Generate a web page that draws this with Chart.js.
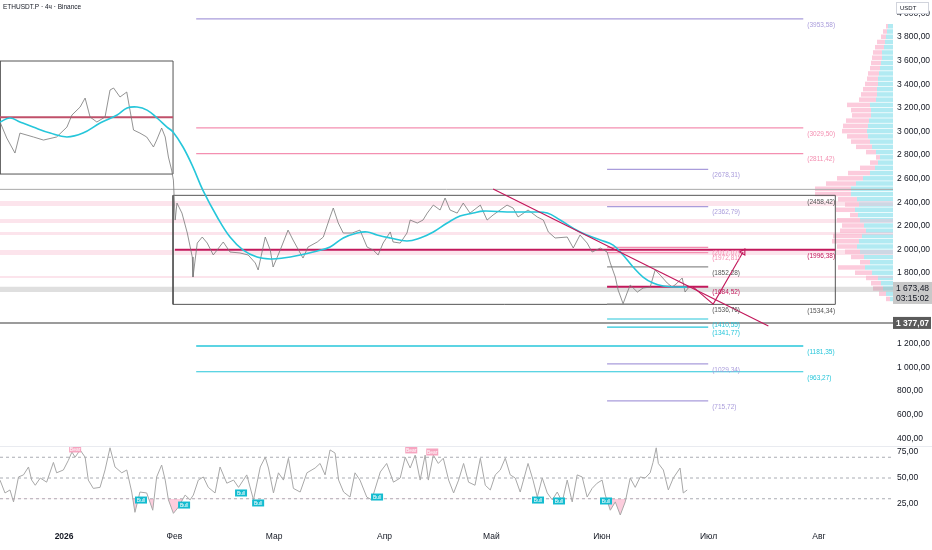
<!DOCTYPE html>
<html>
<head>
<meta charset="utf-8">
<script src="https://cdn.jsdelivr.net/npm/chart.js@4.4.1/dist/chart.umd.min.js"></script>
<style>
  html, body { margin: 0; padding: 0; background: #fff; }
  #wrap { position: relative; width: 932px; height: 550px; overflow: hidden; }
  canvas { position: absolute; }
  #profile { left: 780px; top: 0; z-index: 0; }
  #price { left: 0; top: 0; z-index: 1; }
  #rsi { left: 0; top: 446px; z-index: 1; }
  #sep { position: absolute; left: 0; top: 446px; width: 932px; height: 1px; background: #e9ebf0; z-index: 2; }
</style>
</head>
<body>
<div id="wrap">
  <canvas id="profile" width="113" height="446"></canvas>
  <canvas id="price" width="932" height="446"></canvas>
  <canvas id="rsi" width="932" height="104"></canvas>
  <div id="sep"></div>
</div>
<script>
const FONT = '"Liberation Sans", Arial, sans-serif';
Chart.defaults.font.family = FONT;
Chart.defaults.layout.autoPadding = false;

// time axis, in days from 1 Jan 2026
const xMin = -18, xMax = 232.8;
const monthDays = [0, 31, 59, 90, 120, 151, 181, 212];
const monthLabels = ['2026', 'Фев', 'Мар', 'Апр', 'Май', 'Июн', 'Июл', 'Авг'];

const priceMin = 334, priceMax = 4114;
const priceTicks = [400, 600, 800, 1000, 1200, 1400, 1600, 1800, 2000, 2200, 2400, 2600, 2800, 3000, 3200, 3400, 3600, 3800, 4000];
const rsiTicks = [25, 50, 75];
const rsiLevels = [30, 50, 70];

// ETHUSDT.P 4h
const priceDays = [-18.0,-16.1,-13.8,-12.4,-8.6,-5.8,-2.1,0.8,2.2,4.5,5.9,7.3,9.2,11.5,12.9,13.9,15.7,17.6,19.5,21.3,
  23.2,25.1,26.0,27.4,28.4,29.3,30.2,30.7,31.2,31.7,33.1,34.6,36.0,36.2,37.4,38.8,40.2,41.9,44.7,46.6,
  49.4,51.7,53.7,54.5,56.5,57.9,58.7,60.7,62.9,64.3,66.3,67.1,68.5,71.1,72.8,74.7,75.6,77.0,78.4,80.9,
  83.1,85.1,86.8,88.2,89.6,91.6,92.4,94.4,96.3,97.2,99.2,100.8,102.0,103.7,105.6,107.0,108.4,110.4,112.1,114.0,
  116.9,118.8,120.5,124.4,126.1,127.5,130.3,132.9,134.6,136.0,137.9,141.3,143.0,144.9,146.9,148.3,150.6,152.5,153.4,154.8,
  155.6,157.0,158.1,159.0,161.0,162.6,164.6,166.0,167.4,169.4,170.8,172.2,173.6,174.4,175.3];
const priceVals = [3080,2944,2817,2986,2953,2927,2953,3037,3139,3207,3283,3122,3080,3122,3351,3368,3292,3334,3012,2986,
  2953,2868,2927,3029,2953,2783,2673,2588,2249,2393,2308,2139,1936,1766,2054,2105,2054,1953,2063,1978,
  1970,1953,1885,1826,2105,1995,1851,1995,2164,2080,1970,1927,2020,2063,2105,2275,2351,2224,2139,2139,
  2164,2020,1995,1953,2054,2148,2063,2054,2139,2249,2224,2249,2308,2376,2334,2436,2334,2308,2393,2308,
  2376,2249,2292,2376,2351,2275,2334,2275,2249,2148,2097,2105,2012,2122,2054,1978,2012,1978,1885,1766,
  1656,1540,1630,1698,1639,1673,1681,1826,1783,1715,1681,1715,1758,1639,1673];

// smooth moving average (cyan)
const maDays = [-18,-15.2,-12.4,-8.7,-3.9,0.8,5.3,10.1,14.9,17.7,20.5,23.3,26.1,28.9,30.6,33.4,36.2,39.0,43.0,46.6,
  50.3,54.2,57.9,61.5,66.3,71.1,74.7,78.4,82.3,85.1,87.9,91.6,96.3,100,103.7,107.6,111.2,114.9,117.7,124.4,
  131.7,135.7,139.3,144.9,150.6,154.2,157,159.8,162.6,165.4,168.3,172.2,175];
const maVals = [3080,3114,3080,3037,2986,2953,2986,3071,3139,3198,3207,3181,3114,3037,2995,2868,2698,2500,2275,2105,
  1995,1936,1919,1927,1953,1987,2020,2097,2139,2148,2122,2097,2071,2097,2148,2224,2283,2308,2325,2317,
  2317,2308,2249,2148,2080,2037,1953,1851,1766,1715,1690,1681,1681];

// RSI
const rsiDays = [-18.0,-16.6,-15.2,-14.2,-12.8,-11.4,-10.0,-9.1,-8.1,-6.7,-4.9,-3.0,-2.1,-0.2,1.2,2.2,3.1,4.5,5.9,6.8,
  8.2,10.1,11.5,12.9,14.3,16.2,17.6,19.0,19.9,21.3,23.2,24.9,26.0,27.4,28.4,29.3,30.7,32.1,34.0,35.4,
  36.3,37.7,39.1,40.5,42.4,43.8,45.7,47.6,49.0,51.3,53.2,55.1,56.5,57.4,58.8,60.2,61.6,63.0,64.4,66.3,
  68.2,70.5,71.9,73.3,74.7,76.1,77.1,78.5,80.3,81.7,83.1,85.0,86.4,88.8,90.6,92.5,94.4,95.8,97.2,98.6,
  100.0,101.4,102.3,103.7,105.1,106.5,108.0,109.4,110.8,112.2,113.6,115.4,116.9,118.3,119.7,121.1,122.5,123.9,125.3,126.7,
  128.1,130.3,131.7,132.9,134.3,135.7,137.1,138.5,139.9,141.3,142.7,144.1,145.5,146.9,148.3,149.7,151.1,152.0,153.4,154.8,
  156.2,157.6,159.0,160.4,161.8,163.2,164.6,165.4,166.3,166.9,168.3,169.7,171.1,173.0,173.9,175.0];
const rsiVals = [48,35.6,38.5,27,51,53,60.6,48,43,50,46,65,55,57.7,67,75,70,77,70,48,
  40,41,57.7,79,60.6,55,57.7,36.5,17,36.5,35.6,19,51,62.5,48,29,16,22,33.6,29,
  33.6,48,51,41,35.6,60.6,45,48,41,53,29,60.6,70,59.6,35.6,55,48,69,40,36.5,
  55,59.6,64,53,77,74,48,36.5,31.7,55,48,31.7,29,55.8,64,46,50,70,59.6,72,
  48,72,48,72,64,69,48,35.6,48,64,46,43,69,43,38.5,53,57.7,69,53,50,
  36.5,64,48,31.7,50,35.6,29,36.5,27,48,27,53,51,31.7,40,45,48,33.6,19,27,
  14.4,27,50,41,51,50,55,65,79,64,57.7,38.5,50,59.6,35.6,38.5];
const bullDays = [21.6, 33.7, 49.7, 54.5, 87.9, 133.1, 139.0, 152.2];
const bullVals = [28.8, 24, 35.6, 26, 31.7, 28.8, 27.9, 27.9];
const bearDays = [3.1, 97.5, 103.4];
const bearVals = [77.9, 77, 75];

const lastPrice = 1673.48;
const countdown = '03:15:02';
const markPrice = 1377.07;

// drawings
const fullSpan = [xMin, xMax];
const wideLevels = [2509, 1377.07];
const boxADays = [-18, 30.6], boxAPrices = [2639, 3597], boxAMid = 3120;
const boxBDays = [30.6, 216.6], boxBPrices = [1534.34, 2458.42], boxBMid = 1996.38;
const boxNotes = [2458.42, 1996.38, 1534.34];
const longDays = [37.1, 207.6];
const longLevels = [3953.58, 3029.50, 2811.42, 1181.35, 963.27];
const shortDays = [152.5, 180.9];
const shortLevels = [2678.31, 2362.79, 2017.07, 1972.81, 1852.28, 1684.52, 1536.76, 1410.55, 1341.77, 1029.34, 715.72];
const bandLo = [2368, 2224, 2122, 1953, 1758];
const bandHi = [2410, 2258, 2147, 1995, 1775];
const nowBand = [1640, 1684];
const trendDays = [120.5, 197.8], trendVals = [2512, 1351];
const pathDays = [176.7, 182.3, 190.7], pathVals = [1681, 1537, 1978];

// visible range volume profile
const profilePrices = [4100,4050,4000,3950,3900,3850,3800,3750,3700,3650,3600,3550,3500,3450,3400,3350,3300,3250,3200,3150,
  3100,3050,3000,2950,2900,2850,2800,2750,2700,2650,2600,2550,2500,2450,2400,2350,2300,2250,2200,2150,
  2100,2050,2000,1950,1900,1850,1800,1750,1700,1650,1600,1550,1500];
const profileUp = [5,6,7,8,9,11,11,12,13,14,15,15,16,16,17,23,22,22,24,25,
  26,25,23,21,17,13,15,18,23,30,37,42,42,36,34,38,35,33,29,27,
  31,34,36,33,29,23,28,21,15,12,10,7,3];
const profileDown = [2,4,5,8,9,9,10,10,10,11,11,13,14,16,17,23,20,19,23,25,
  25,21,19,16,10,4,8,15,22,26,30,36,36,19,14,19,8,23,22,26,
  29,27,20,15,13,10,27,17,12,10,10,7,4];

const LAV = '#a99cdb', PINK = '#f48fb1', CYAN = '#26c6da', GRAY = '#8d8d8d', RED = '#c2185b', DARK = '#131722';
const longColors = [LAV, PINK, PINK, CYAN, CYAN];
const shortColors = [LAV, LAV, PINK, PINK, GRAY, RED, GRAY, CYAN, CYAN, LAV, LAV];
const shortNoteColors = [LAV, LAV, PINK, PINK, '#555', RED, '#555', CYAN, CYAN, LAV, LAV];
const boxNoteColors = ['#555', RED, '#555'];

function fmtAxis(v) {
  const [i, f] = Number(v).toFixed(2).split('.');
  return i.replace(/\B(?=(\d{3})+(?!\d))/g, ' ') + ',' + f;
}
function fmtNote(v) {
  return '(' + v.toFixed(2).replace('.', ',') + ')';
}
const pts = (xs, ys) => xs.map((x, i) => ({x, y: ys[i]}));
const hline = (span, v) => [{x: span[0], y: v}, {x: span[1], y: v}];
const rect = (d, p) => [{x: d[0], y: p[0]}, {x: d[1], y: p[0]}, {x: d[1], y: p[1]}, {x: d[0], y: p[1]}, {x: d[0], y: p[0]}];

const ds = [];
function line(data, color, width, order, more) {
  ds.push(Object.assign({data, borderColor: color, borderWidth: width, pointRadius: 0,
    order, fill: false, tension: 0}, more || {}));
}

line(pts(pathDays, pathVals), RED, 1.1, 1, {
  pointRadius: ctx => ctx.dataIndex === pathDays.length - 1 ? 3.5 : 0,
  pointStyle: 'triangle', pointRotation: 30,
  pointBorderColor: RED, pointBackgroundColor: 'rgba(0,0,0,0)', pointBorderWidth: 1.1
});
line(pts(trendDays, trendVals), RED, 1.2, 2);
line(pts(maDays, maVals), CYAN, 1.6, 3, {tension: 0.4});
line(pts(priceDays, priceVals), 'rgba(120,120,120,0.8)', 1, 4);
longLevels.forEach((v, i) => line(hline(longDays, v), longColors[i], i === 3 ? 1.6 : 1.2, 5));
shortLevels.forEach((v, i) => line(hline(shortDays, v), shortColors[i], i === 5 ? 2 : 1.2, 5));
line(hline([boxBDays[0] + 0.5, boxBDays[1]], boxBMid), RED, 2, 5);
line(hline(boxADays, boxAMid), '#c0506a', 2, 5);
line(hline(fullSpan, wideLevels[0]), '#a9a9a9', 1, 6);
line(hline(fullSpan, wideLevels[1]), '#7a7a7a', 1.4, 6);
line(rect(boxADays, boxAPrices), '#555', 1, 6);
line(rect(boxBDays, boxBPrices), '#555', 1, 6);
bandLo.forEach((lo, i) => line(hline(fullSpan, bandHi[i]), 'rgba(0,0,0,0)', 0, 9,
  {fill: {value: lo}, backgroundColor: 'rgba(248,187,208,0.4)'}));
line(hline(fullSpan, nowBand[1]), 'rgba(0,0,0,0)', 0, 9,
  {fill: {value: nowBand[0]}, backgroundColor: 'rgba(150,150,150,0.3)'});

const notes = {
  id: 'notes',
  afterDatasetsDraw(chart) {
    const {ctx, scales: {x, y}} = chart;
    ctx.save();
    ctx.font = '6.5px ' + FONT;
    ctx.textBaseline = 'middle';
    ctx.textAlign = 'left';
    longLevels.forEach((v, i) => {
      ctx.fillStyle = longColors[i];
      ctx.fillText(fmtNote(v), x.getPixelForValue(longDays[1]) + 4, y.getPixelForValue(v) + 6);
    });
    shortLevels.forEach((v, i) => {
      ctx.fillStyle = shortNoteColors[i];
      ctx.fillText(fmtNote(v), x.getPixelForValue(shortDays[1]) + 4, y.getPixelForValue(v) + 6);
    });
    boxNotes.forEach((v, i) => {
      ctx.fillStyle = boxNoteColors[i];
      ctx.fillText(fmtNote(v), x.getPixelForValue(longDays[1]) + 4, y.getPixelForValue(v) + 6.5);
    });
    ctx.fillStyle = DARK;
    ctx.font = '6.5px ' + FONT;
    ctx.fillText('ETHUSDT.P · 4ч · Binance', 3, 7);
    ctx.restore();
  },
  afterDraw(chart) {
    const {ctx, scales: {y}} = chart;
    const left = y.left;
    ctx.save();
    // currency label
    ctx.fillStyle = '#fff';
    ctx.fillRect(left + 3, 2, 33, 12);
    ctx.strokeStyle = '#d1d4dc';
    ctx.lineWidth = 1;
    ctx.strokeRect(left + 3.5, 2.5, 32, 11);
    ctx.fillStyle = DARK;
    ctx.font = '6px ' + FONT;
    ctx.textBaseline = 'middle';
    ctx.fillText('USDT', left + 7, 8);
    // last price
    const py = y.getPixelForValue(lastPrice);
    ctx.fillStyle = '#c8c8c8';
    ctx.fillRect(left, py - 6, 39, 22);
    ctx.fillStyle = DARK;
    ctx.font = '8.5px ' + FONT;
    ctx.fillText(fmtAxis(lastPrice), left + 3, py + 1);
    ctx.fillText(countdown, left + 3, py + 11);
    // reference price
    const my = y.getPixelForValue(markPrice);
    ctx.fillStyle = '#5b5b5b';
    ctx.fillRect(left, my - 6, 38, 12);
    ctx.fillStyle = '#fff';
    ctx.font = 'bold 8.5px ' + FONT;
    ctx.fillText(fmtAxis(markPrice), left + 3, my + 0.5);
    ctx.restore();
  }
};

const noGrid = {display: false, drawTicks: false, tickLength: 0};

new Chart(document.getElementById('price'), {
  type: 'line',
  data: {datasets: ds},
  options: {
    animation: false,
    responsive: false,
    events: [],
    layout: {autoPadding: false, padding: 0},
    plugins: {legend: {display: false}, tooltip: {enabled: false}},
    scales: {
      x: {type: 'linear', min: xMin, max: xMax, display: false},
      y: {
        type: 'linear', position: 'right', min: priceMin, max: priceMax,
        grid: noGrid, border: {display: false},
        ticks: {color: DARK, padding: 4, font: {size: 8.5}, callback: v => fmtAxis(v)},
        afterBuildTicks: s => { s.ticks = priceTicks.map(v => ({value: v})); },
        afterFit: s => { s.width = 39; s.paddingTop = 0; s.paddingBottom = 0; }
      }
    }
  },
  plugins: [notes]
});

new Chart(document.getElementById('profile'), {
  type: 'bar',
  data: {
    datasets: [
      {data: pts(profileUp, profilePrices), backgroundColor: 'rgba(38,198,218,0.36)'},
      {data: pts(profileDown, profilePrices), backgroundColor: 'rgba(242,54,119,0.26)'}
    ]
  },
  options: {
    indexAxis: 'y',
    animation: false,
    responsive: false,
    events: [],
    layout: {autoPadding: false, padding: 0},
    datasets: {bar: {barPercentage: 0.86, categoryPercentage: 1, borderWidth: 0}},
    plugins: {legend: {display: false}, tooltip: {enabled: false}},
    scales: {
      x: {type: 'linear', min: 0, max: 113, reverse: true, stacked: true, display: false},
      y: {type: 'linear', min: priceMin, max: priceMax, stacked: true, display: false}
    }
  }
});

const rsiMarks = {
  id: 'rsiMarks',
  afterDatasetsDraw(chart) {
    const {ctx, scales: {x, y}} = chart;
    ctx.save();
    ctx.font = '5px ' + FONT;
    ctx.textAlign = 'center';
    ctx.textBaseline = 'middle';
    const tag = (d, v, txt, bg) => {
      const px = x.getPixelForValue(d), py = y.getPixelForValue(v);
      ctx.fillStyle = bg;
      ctx.fillRect(px - 6, py - 3.5, 12, 7);
      ctx.fillStyle = '#fff';
      ctx.fillText(txt, px, py + 0.3);
    };
    bullDays.forEach((d, i) => tag(d, bullVals[i], 'Bull', '#14bcd0'));
    bearDays.forEach((d, i) => tag(d, bearVals[i], 'Bear', '#f6a5c0'));
    ctx.restore();
  }
};

const rsiSets = [{
  data: pts(rsiDays, rsiVals), borderColor: '#a8a8a8', borderWidth: 1, pointRadius: 0, order: 1,
  fill: {target: {value: 30}, above: 'rgba(0,0,0,0)', below: 'rgba(242,54,119,0.25)'}
}];
rsiLevels.forEach(v => rsiSets.push({
  data: hline([xMin, xMax], v), borderColor: '#9598a1', borderWidth: 0.8, borderDash: [3, 3],
  pointRadius: 0, order: 2, fill: false
}));

new Chart(document.getElementById('rsi'), {
  type: 'line',
  data: {datasets: rsiSets},
  options: {
    animation: false,
    responsive: false,
    events: [],
    layout: {autoPadding: false, padding: 0},
    plugins: {legend: {display: false}, tooltip: {enabled: false}},
    scales: {
      x: {
        type: 'linear', min: xMin, max: xMax,
        grid: noGrid, border: {display: false},
        ticks: {
          color: DARK, padding: 8, autoSkip: false, maxRotation: 0,
          font: ctx => ({size: 8.5, weight: ctx.tick && ctx.tick.value === 0 ? 'bold' : 'normal'}),
          callback: v => monthLabels[monthDays.indexOf(v)]
        },
        afterBuildTicks: s => { s.ticks = monthDays.map(v => ({value: v})); },
        afterFit: s => { s.height = 26; s.paddingLeft = 0; s.paddingRight = 0; }
      },
      y: {
        type: 'linear', position: 'right', min: 5.77, max: 80.77,
        grid: noGrid, border: {display: false},
        ticks: {color: DARK, padding: 4, font: {size: 8.5}, callback: v => fmtAxis(v)},
        afterBuildTicks: s => { s.ticks = rsiTicks.map(v => ({value: v})); },
        afterFit: s => { s.width = 39; s.paddingTop = 0; s.paddingBottom = 0; }
      }
    }
  },
  plugins: [rsiMarks]
});
</script>
</body>
</html>
